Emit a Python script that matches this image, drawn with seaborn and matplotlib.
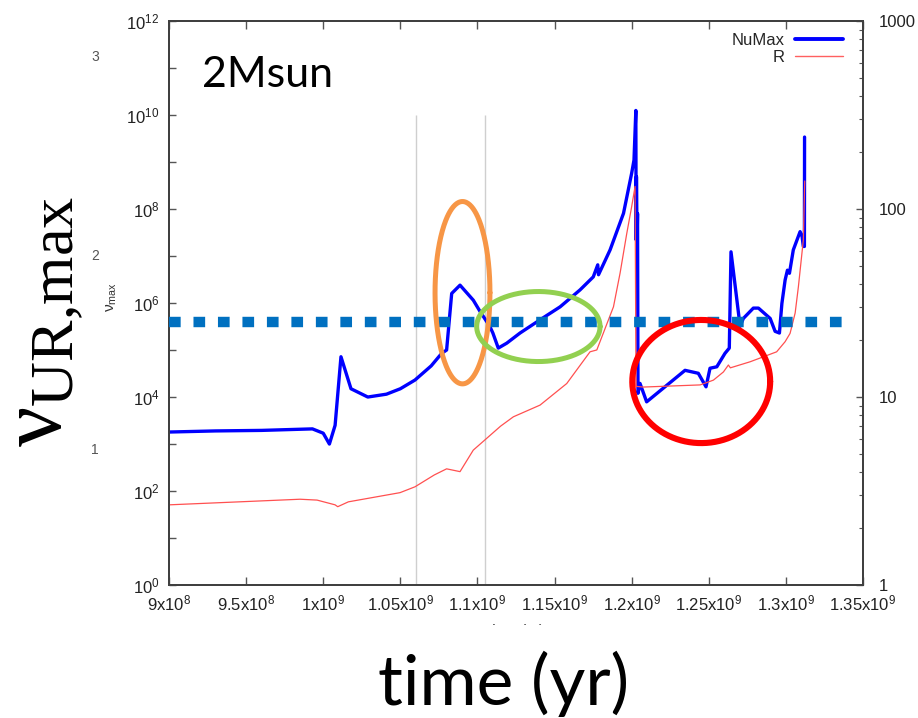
import numpy as np
import pandas as pd
import matplotlib
matplotlib.use('Agg')
import matplotlib.pyplot as plt
import seaborn as sns
from matplotlib.patches import Rectangle
from matplotlib.ticker import FixedLocator, FixedFormatter, LogLocator, NullLocator, NullFormatter

# ---- data ----
# NuMax (left axis)
nu_time = [9.0e8, 9.3e8, 9.6e8, 9.93e8, 1.0e9, 1.004e9, 1.0077e9, 1.0115e9, 1.018e9,
           1.0289e9, 1.041e9, 1.05e9, 1.0595e9, 1.07e9, 1.0768e9, 1.080e9, 1.0833e9,
           1.0887e9, 1.0973e9,
           1.1017e9, 1.108e9, 1.110e9, 1.1135e9, 1.119e9, 1.1276e9, 1.1406e9, 1.1536e9,
           1.1665e9, 1.1751e9, 1.1780e9, 1.1785e9, 1.186e9, 1.1947e9, 1.2e9, 1.2015e9,
           1.2027e9, 1.2029e9, 1.2031e9, 1.2035e9, 1.2038e9, 1.2041e9, 1.2054e9, 1.2097e9,
           1.2346e9, 1.2432e9, 1.2482e9, 1.2508e9, 1.2552e9, 1.2605e9, 1.2633e9, 1.2644e9,
           1.2703e9, 1.2724e9, 1.2789e9, 1.2822e9, 1.2898e9, 1.293e9, 1.2958e9, 1.2974e9,
           1.2995e9, 1.301e9, 1.3023e9, 1.3048e9, 1.3092e9, 1.3105e9, 1.3113e9, 1.3120e9,
           1.3121e9]
nu_max = [1.8e3, 1.9e3, 1.95e3, 2.1e3, 1.7e3, 1.0e3, 2.5e3, 7.2e4, 1.5e4,
          1.0e4, 1.15e4, 1.5e4, 2.3e4, 4.6e4, 8.5e4, 1.0e5, 1.6e6,
          2.4e6, 1.15e6,
          6.6e5, 3.2e5, 2.3e5, 1.1e5, 1.4e5, 2.3e5, 4.4e5, 8.3e5,
          1.9e6, 3.6e6, 6.5e6, 4.0e6, 1.35e7, 8.1e7, 5.8e8, 1.1e9,
          1.25e10, 2.2e7, 4.9e8, 2.2e7, 8.0e7, 1.2e4, 1.95e4, 7.9e3,
          3.7e4, 3.2e4, 1.65e4, 4.1e4, 4.4e4, 8.5e4, 1.1e5, 1.23e7,
          3.2e5, 4.7e5, 7.8e5, 7.8e5, 4.7e5, 2.5e5, 2.3e5, 9.8e5,
          3.1e6, 5.0e6, 4.3e6, 1.35e7, 3.3e7, 2.6e7, 1.6e7, 1.6e7,
          3.4e9]

# R (right axis)
r_time = [9.0e8, 9.5e8, 9.85e8, 9.96e8, 1.0077e9, 1.0094e9, 1.0163e9, 1.0498e9, 1.0595e9,
          1.072e9, 1.080e9, 1.0887e9, 1.0973e9, 1.106e9, 1.115e9, 1.1233e9, 1.1406e9,
          1.1579e9, 1.173e9,
          1.1774e9, 1.1882e9, 1.1925e9, 1.1968e9, 1.2e9, 1.2022e9, 1.2028e9, 1.2076e9,
          1.2444e9, 1.253e9, 1.2595e9, 1.2627e9, 1.2640e9, 1.2768e9, 1.294e9, 1.2995e9,
          1.3027e9, 1.306e9, 1.3081e9, 1.3113e9, 1.3122e9]
r_val = [2.67, 2.78, 2.86, 2.83, 2.67, 2.61, 2.77, 3.10, 3.33,
         3.85, 4.15, 4.01, 5.22, 6.03, 7.0, 7.85, 9.06,
         11.8, 17.4,
         17.8, 30.2, 45.7, 74.0, 103.0, 132.0, 11.4, 11.3,
         11.6, 12.3, 13.6, 14.8, 14.3, 15.4, 17.4, 19.7,
         21.8, 28.0, 38.6, 68.4, 141.0]

# reference markers
vline_times = [1.06e9, 1.105e9]
vline_top = 1e10
threshold = 4e5
threshold_span = [9.0e8, 1.3436e9]

# highlight ellipses: centre time, half-width (yr), centre log10, half-height (decades)
ellipses = {
    'orange': (1.0903e9, 1.78e7, 6.22, 1.94, '#F79646', 3.6),
    'green': (1.1395e9, 4.0e7, 5.50, 0.745, '#92D050', 3.6),
    'red': (1.2451e9, 4.47e7, 4.33, 1.31, '#FF0000', 4.4),
}

xtick_vals = [9.0e8, 9.5e8, 1.0e9, 1.05e9, 1.1e9, 1.15e9, 1.2e9, 1.25e9, 1.3e9, 1.35e9]
xtick_labels = ['9x10$^{8}$', '9.5x10$^{8}$', '1x10$^{9}$', '1.05x10$^{9}$', '1.1x10$^{9}$',
                '1.15x10$^{9}$', '1.2x10$^{9}$', '1.25x10$^{9}$', '1.3x10$^{9}$', '1.35x10$^{9}$']
ytick_exp = list(range(0, 13))
r_ticks = [1, 10, 100, 1000]
r_labels = ['1', '10', '100', '1000']

df_nu = pd.DataFrame({'time': nu_time, 'NuMax': nu_max})
df_r = pd.DataFrame({'time': r_time, 'R': r_val})

# ---- style ----
sns.set_theme(style='ticks')
plt.rcParams['font.family'] = ['Liberation Sans', 'DejaVu Sans']
plt.rcParams['mathtext.default'] = 'regular'

fig = plt.figure(figsize=(9.18, 7.18), dpi=100)
ax = fig.add_axes([0.1841, 0.1852, 0.756, 0.7855])
ax.set_yscale('log')
ax.set_xlim(9.0e8, 1.35e9)
ax.set_ylim(1, 1e12)

ax2 = ax.twinx()
ax2.set_yscale('log')
ax2.set_ylim(1, 1000)

ax3 = ax.twinx()
ax3.set_yscale('log')
ax3.set_ylim(1, 1e12)
ax3.axis('off')

# vertical guide lines
ax.vlines(vline_times, 1, vline_top, color='#cfcfcf', lw=1.0, zorder=1)

sns.lineplot(data=df_nu, x='time', y='NuMax', ax=ax, sort=False, estimator=None,
             color='#0000FF', lw=2.4, legend=False, zorder=3)
sns.lineplot(data=df_r, x='time', y='R', ax=ax2, sort=False, estimator=None,
             color='#FF5050', lw=0.9, legend=False)
ax.set_xlabel('')
ax.set_ylabel('')
ax2.set_ylabel('')

# threshold line and ellipses on the overlay axes
ax3.plot(threshold_span, [threshold, threshold], color='#0070C0', lw=7.5,
         ls=(0, (1.12, 1.23)), dash_capstyle='butt', solid_capstyle='butt')
theta = np.linspace(0, 2 * np.pi, 300)
for cx, a, cy, b, col, lw in ellipses.values():
    ax3.plot(cx + a * np.cos(theta), 10 ** (cy + b * np.sin(theta)), color=col, lw=lw)

# ---- axes cosmetics ----
ax.xaxis.set_major_locator(FixedLocator(xtick_vals))
ax.xaxis.set_major_formatter(FixedFormatter(xtick_labels))
ax.xaxis.set_minor_locator(NullLocator())
ax.yaxis.set_major_locator(FixedLocator([10.0 ** e for e in ytick_exp]))
ax.yaxis.set_major_formatter(FixedFormatter(
    ['10$^{%d}$' % e if e % 2 == 0 else '' for e in ytick_exp]))
ax.yaxis.set_minor_locator(NullLocator())
ax.tick_params(axis='x', which='major', direction='in', length=5.5, width=1.0,
               top=True, bottom=True, labelsize=12, pad=6, color='#555555', labelcolor='#222222')
ax.tick_params(axis='y', which='major', direction='in', length=5, width=1.0,
               left=True, right=False, labelsize=12, pad=7, color='#555555', labelcolor='#222222')

ax2.yaxis.set_major_locator(FixedLocator(r_ticks))
ax2.yaxis.set_major_formatter(FixedFormatter(r_labels))
ax2.yaxis.set_minor_locator(LogLocator(base=10, subs=np.arange(2, 10)))
ax2.yaxis.set_minor_formatter(NullFormatter())
ax2.tick_params(axis='y', which='major', direction='in', length=5, width=1.0,
                labelsize=12, pad=11, color='#555555', labelcolor='#222222')
ax2.tick_params(axis='y', which='minor', direction='in', length=3, width=0.8, color='#555555')

for a_ in (ax, ax2):
    for s in a_.spines.values():
        s.set_color('#404040')
        s.set_linewidth(1.4)

# legend, gnuplot style (text then sample)
h_nu = ax.get_lines()[-1]
h_r = ax2.get_lines()[-1]
leg = ax3.legend([h_nu, h_r], ['NuMax', 'R'], loc='upper right', bbox_to_anchor=(0.9712, 0.979),
                 frameon=False, markerfirst=False, fontsize=12, handlelength=2.9,
                 handletextpad=0.6, labelspacing=0.1, borderpad=0, borderaxespad=0)
leg.get_lines()[0].set_linewidth(2.8)
leg.get_lines()[1].set_linewidth(1.0)
leg.get_lines()[1].set_color('#FF6060')

# ---- slide annotations ----
ax3.text(0.0476, 0.883, '2Msun', transform=ax.transAxes, fontsize=31, color='black',
         family=['Lato', 'DejaVu Sans'], va='baseline', ha='left')

fig.text(112 / 918, 1 - 297 / 718, 'ν$_{max}$', rotation=90, fontsize=11,
         ha='center', va='center', color='#333333')
for lab, py in [('3', 57), ('2', 256), ('1', 450)]:
    fig.text(95 / 918, 1 - py / 718, lab, fontsize=10, ha='center', va='center', color='#555555')

# gnuplot's own x label, mostly covered on the slide
fig.text(516 / 918, 1 - 631 / 718, 'time (yr)', fontsize=11, ha='center', va='center',
         color='#333333', zorder=1)
fig.patches.append(Rectangle((0, 0), 1, (718 - 625) / 718, transform=fig.transFigure,
                             facecolor='white', edgecolor='none', zorder=2))

fig.text(503.5 / 918, 13 / 718, 'time (yr)', fontsize=50, family=['Lato', 'DejaVu Sans'],
         color='black', ha='center', va='baseline', zorder=3)
fig.text(46 / 918, 1 - 321 / 718, '$ν_{UR{,}max}$', rotation=90, fontsize=64, color='black',
         family=['Liberation Serif', 'DejaVu Serif'], ha='center', va='center', zorder=3)

fig.savefig('out.png', dpi=100)
